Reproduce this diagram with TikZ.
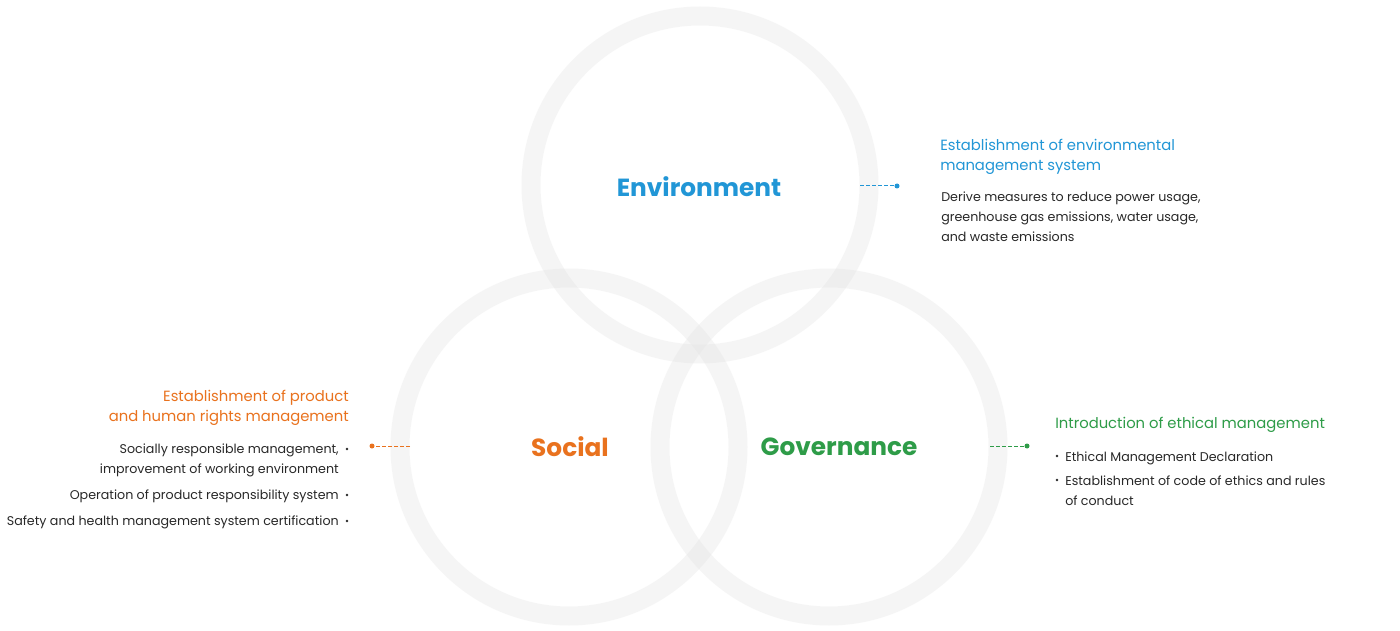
\documentclass[tikz,border=0pt]{standalone}
\usepackage{fontspec}
\setmainfont{Poppins}
\definecolor{envc}{RGB}{33,150,214}
\definecolor{socc}{RGB}{233,114,30}
\definecolor{govc}{RGB}{46,156,72}
\definecolor{ringc}{RGB}{225,225,225}
\definecolor{bodyc}{RGB}{40,40,40}
\begin{document}
\begin{tikzpicture}[x=0.75pt,y=-0.75pt]
\tikzset{
  ring/.style={circle, draw=ringc, draw opacity=0.3, line width=14.25pt, minimum size=253.5pt, inner sep=0pt},
  biglabel/.style={font=\fontsize{18.6}{21}\selectfont\bfseries, inner sep=0pt},
  headW/.style={font=\fontsize{11.1}{14}\selectfont, inner sep=0pt, anchor=base west},
  headE/.style={font=\fontsize{11.1}{14}\selectfont, inner sep=0pt, anchor=base east},
  bodyW/.style={font=\fontsize{9.5}{12}\selectfont, text=bodyc, inner sep=0pt, anchor=base west},
  bodyE/.style={font=\fontsize{9.5}{12}\selectfont, text=bodyc, inner sep=0pt, anchor=base east},
  bul/.style={circle, fill=bodyc, inner sep=0pt, minimum size=2.1pt},
  enddot/.style={circle, inner sep=0pt, minimum size=3.75pt},
  dashline/.style={line width=0.75pt, dash pattern=on 3pt off 1.5pt}
}
\useasboundingbox (0,0) rectangle (1400,631);
\fill[white] (0,0) rectangle (1400,631);

% rings
\node[ring] (env) at (700,185) {};
\node[ring] (soc) at (569,447) {};
\node[ring] (gov) at (829,447) {};

% big labels
\node[biglabel, text=envc] (envt) at (699,187) {Environment};
\node[biglabel, text=socc] (soct) at (570,447) {Social};
\node[biglabel, text=govc] (govt) at (839,447) {Governance};

% connectors
\coordinate (envA) at (860,186);
\node[enddot, fill=envc] (envD) at (897,186) {};
\draw[dashline, envc] (envA) -- (envD);
\coordinate (socA) at (410,446);
\node[enddot, fill=socc] (socD) at (372,446) {};
\draw[dashline, socc] (socA) -- (socD);
\coordinate (govA) at (990,446);
\node[enddot, fill=govc] (govD) at (1027,446) {};
\draw[dashline, govc] (govA) -- (govD);

% environment texts
\node[headW, text=envc] (eh1) at (940,151) {Establishment of environmental};
\node[headW, text=envc] (eh2) at (940,171) {management system};
\node[bodyW] (eb1) at (941,202) {Derive measures to reduce power usage,};
\node[bodyW] (eb2) at (941,222) {greenhouse gas emissions, water usage,};
\node[bodyW] (eb3) at (941,242) {and waste emissions};

% social texts
\node[headE, text=socc] (sh1) at (349,401) {Establishment of product};
\node[headE, text=socc] (sh2) at (349,421) {and human rights management};
\node[bodyE] (sb1) at (339,453) {Socially responsible management,};
\node[bodyE] (sb2) at (339,473) {improvement of working environment};
\node[bodyE] (sb3) at (339,499) {Operation of product responsibility system};
\node[bodyE] (sb4) at (339,525) {Safety and health management system certification};
\node[bul] (sbu1) at (347,449) {};
\node[bul] (sbu3) at (347,495) {};
\node[bul] (sbu4) at (347,521) {};

% governance texts
\node[headW, text=govc] (gh1) at (1055,428) {Introduction of ethical management};
\node[bodyW] (gb1) at (1065,461) {Ethical Management Declaration};
\node[bodyW] (gb2) at (1065,485) {Establishment of code of ethics and rules};
\node[bodyW] (gb3) at (1065,505) {of conduct};
\node[bul] (gbu1) at (1057,456) {};
\node[bul] (gbu2) at (1057,480) {};
\end{tikzpicture}
\end{document}
